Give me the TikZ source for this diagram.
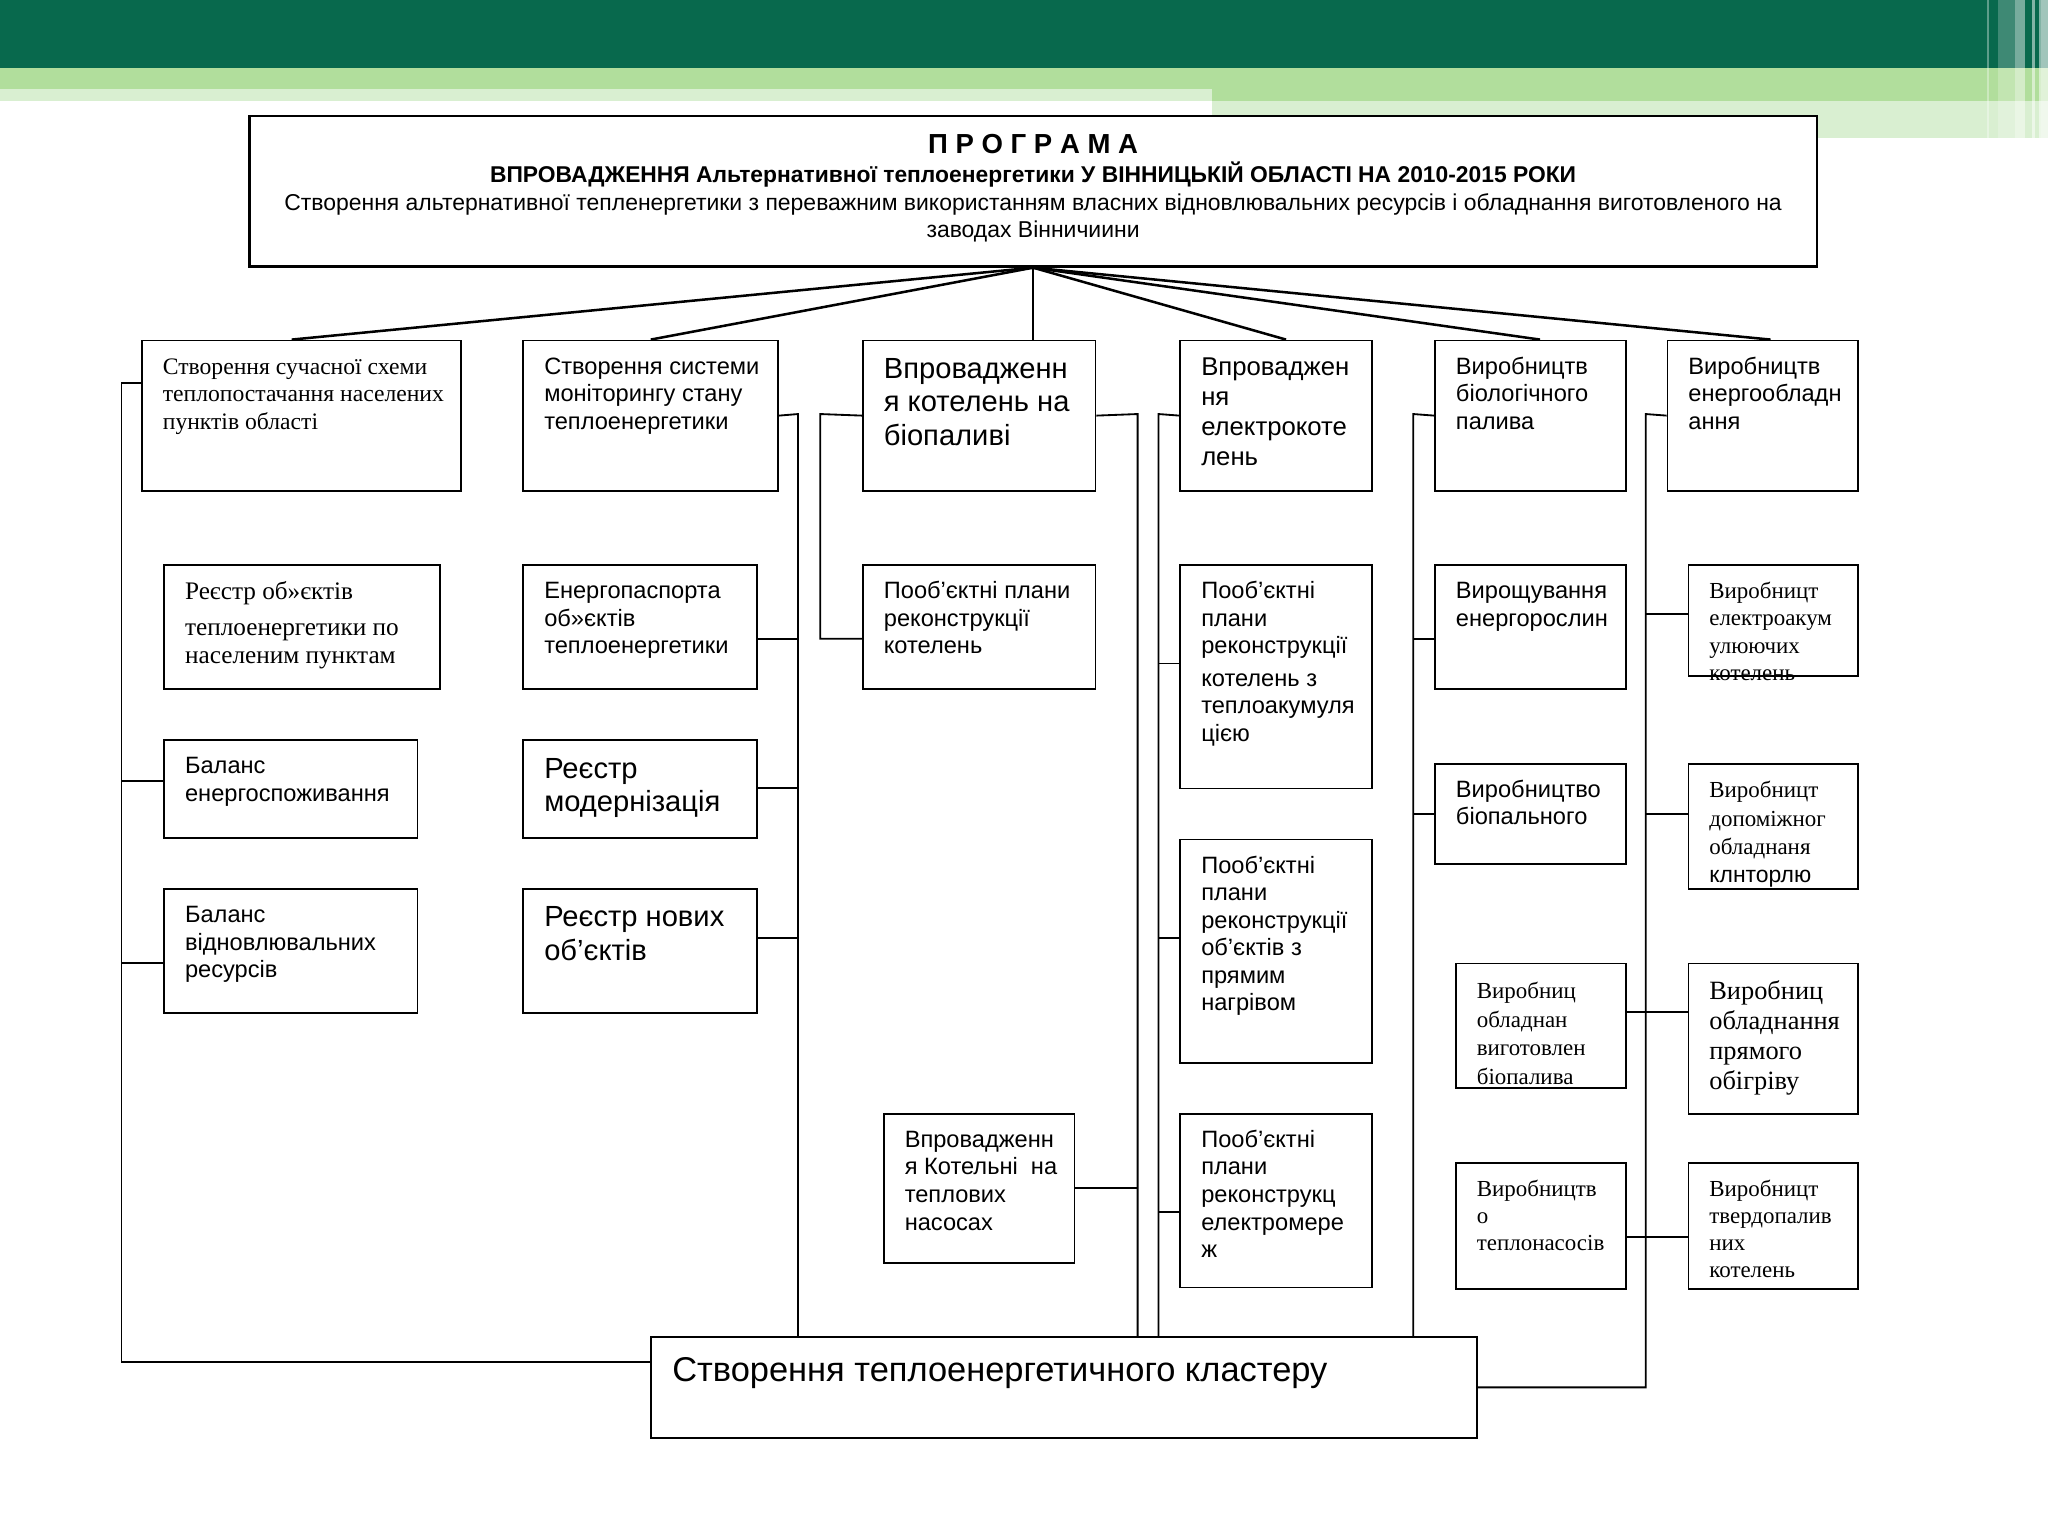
\documentclass[tikz,border=0pt]{standalone}
\usepackage{fontspec}
\setmainfont{Liberation Sans}
\newfontfamily\arialf{Liberation Sans}
\newfontfamily\timesf{Liberation Serif}
\usepackage{tikz}
\usetikzlibrary{positioning, calc}
\newlength\px
\setlength\px{0.02cm}
\definecolor{bandDark}{HTML}{08694D}
\definecolor{bandMid}{HTML}{B1DE9C}
\definecolor{bandLight}{HTML}{D9EFD1}
\newcommand{\cell}[4][11]{\parbox[c][#3\px][t]{#2\px}{\vspace*{#1\px}\hspace*{16\px}\begin{tabular}[t]{@{}l@{}}#4\end{tabular}}}
\newcommand{\txtsans}{\arialf\fontsize{10.3pt}{12pt}\selectfont}
\newcommand{\txtmid}{\arialf\fontsize{11.2pt}{13pt}\selectfont}
\newcommand{\txtbig}{\arialf\fontsize{12.7pt}{14.6pt}\selectfont}
\newcommand{\txtserif}{\timesf\fontsize{10.3pt}{12pt}\selectfont}
\tikzstyle{box} = [draw, line width=0.8pt, inner sep=0pt, anchor=north west, fill=white]
\tikzstyle{wire} = [line width=0.8pt]
\tikzstyle{fan} = [line width=1.1pt]
\begin{document}
\begin{tikzpicture}[x=0.02cm, y=-0.02cm]
\useasboundingbox (0,0) rectangle (1568,1176);
\fill[bandDark] (0,0) rectangle (1568,52);
\fill[bandMid] (0,52) rectangle (1568,68);
\fill[bandMid] (928,68) rectangle (1568,77);
\fill[bandLight] (0,68) rectangle (928,77);
\fill[bandLight] (928,77) rectangle (1568,106);
\foreach \a/\b/\o in {1521/1523/0.35, 1530/1543/0.22, 1543/1550/0.45, 1556/1558/0.5, 1561/1563/0.5, 1563/1568/0.62}
    \fill[white, opacity=\o] (\a,0) rectangle (\b,106);

\node[box, line width=1.1pt, font=\arialf\fontsize{10pt}{12pt}\selectfont] (programme) at (190,88) {\parbox[c][115\px][t]{1200\px}{\vspace*{14\px}\centering
    \begin{tabular}[t]{@{}c@{}}
    {\bfseries\fontsize{12pt}{12pt}\selectfont П Р О Г Р А М А}\\
    {\bfseries\fontsize{9.95pt}{12pt}\selectfont ВПРОВАДЖЕННЯ Альтернативної теплоенергетики У ВІННИЦЬКІЙ ОБЛАСТІ НА 2010-2015 РОКИ}\\
    Створення альтернативної тепленергетики з переважним використанням власних відновлювальних ресурсів і обладнання виготовленого на\\
    заводах Вінничиини
    \end{tabular}}};

\node[box, font=\txtserif] (schema) at (108,260) {\cell{244}{115}{Створення сучасної схеми\\теплопостачання населених\\пунктів області}};
\node[box, font=\txtsans] (monitor) at (400,260) {\cell{195}{115}{Створення системи\\моніторингу стану\\теплоенергетики}};
\node[box, font=\txtbig] (biofuel) at (660,260) {\cell{178}{115}{Впровадженн\\я котелень на\\біопаливі}};
\node[box, font=\txtmid] (electro) at (903,260) {\cell{147}{115}{Впроваджен\\ня\\електрокоте\\лень}};
\node[box, font=\txtsans] (bioprod) at (1098,260) {\cell{146}{115}{Виробництв\\біологічного\\палива}};
\node[box, font=\txtsans] (equip) at (1276,260) {\cell{146}{115}{Виробництв\\енергообладн\\ання}};

\node[box, font=\timesf\fontsize{11pt}{12.2pt}\selectfont] (register) at (125,432) {\cell{211}{95}{Реєстр об»єктів\\[3.7pt]теплоенергетики по\\населеним пунктам}};
\node[box, font=\txtsans] (balance) at (125,566) {\cell{194}{75}{Баланс\\енергоспоживання}};
\node[box, font=\txtsans] (renew) at (125,680) {\cell{194}{95}{Баланс\\відновлювальних\\ресурсів}};

\node[box, font=\txtsans] (passport) at (400,432) {\cell{179}{95}{Енергопаспорта\\об»єктів\\теплоенергетики}};
\node[box, font=\txtbig] (modern) at (400,566) {\cell{179}{75}{Реєстр\\модернізація}};
\node[box, font=\txtbig] (newobj) at (400,680) {\cell{179}{95}{Реєстр нових\\об’єктів}};

\node[box, font=\txtsans] (plans) at (660,432) {\cell{178}{95}{Пооб’єктні плани\\реконструкції\\котелень}};
\node[box, font=\txtsans] (pumps) at (676,852) {\cell{146}{114}{Впровадженн\\я Котельні\ \ на\\теплових\\насосах}};

\node[box, font=\txtsans] (accum) at (903,432) {\cell{147}{171}{Пооб’єктні\\плани\\реконструкції\\[2pt]котелень з\\теплоакумуля\\цією}};
\node[box, font=\txtsans] (direct) at (903,642) {\cell{147}{171}{Пооб’єктні\\плани\\реконструкції\\об’єктів з\\прямим\\нагрівом}};
\node[box, font=\txtsans] (grid) at (903,852) {\cell{147}{133}{Пооб’єктні\\плани\\реконструкц\\електромере\\ж}};

\node[box, font=\txtsans] (crops) at (1098,432) {\cell{146}{95}{Вирощування\\енергорослин}};
\node[box, font=\txtsans] (pellets) at (1098,584) {\cell{146}{77}{Виробництво\\біопального}};
\node[box, font=\timesf\fontsize{10pt}{12.6pt}\selectfont] (bioequip) at (1114,737) {\cell{130}{95}{Виробниц\\обладнан\\виготовлен\\біопалива}};
\node[box, font=\timesf\fontsize{10pt}{11.8pt}\selectfont] (heatpumps) at (1114,890) {\cell{130}{96}{Виробництв\\о\\теплонасосів}};

\node[box, font=\timesf\fontsize{10pt}{11.9pt}\selectfont] (eboilers) at (1292,432) {\cell{130}{85}{Виробницт\\електроакум\\улюючих\\котелень}};
\node[box, font=\timesf\fontsize{10pt}{12.3pt}\selectfont] (control) at (1292,584) {\cell{130}{96}{Виробницт\\допоміжног\\обладнаня\\{\arialf клнторлю}}};
\node[box, font=\timesf\fontsize{11.5pt}{13.2pt}\selectfont] (heating) at (1292,737) {\cell{130}{115}{Виробниц\\обладнання\\прямого\\обігріву}};
\node[box, font=\timesf\fontsize{10pt}{11.8pt}\selectfont] (solid) at (1292,890) {\cell{130}{96}{Виробницт\\твердопалив\\них\\котелень}};

\node[box, font=\arialf\fontsize{15pt}{17pt}\selectfont] (cluster) at (498,1023) {\cell[13]{632}{77}{Створення теплоенергетичного кластеру}};

\draw[fan] (programme.south) -- ($(schema.north west)!.47!(schema.north east)$);
\draw[fan] (programme.south) -- (monitor.north);
\draw[wire] (programme.south) -- (programme.south |- biofuel.north);
\draw[fan] (programme.south) -- ($(electro.north west)!.55!(electro.north east)$);
\draw[fan] (programme.south) -- ($(bioprod.north west)!.55!(bioprod.north east)$);
\draw[fan] (programme.south) -- ($(equip.north west)!.54!(equip.north east)$);

\coordinate (busA) at (93,293);
\coordinate (busB) at (611,317);
\coordinate (busC) at (628,317);
\coordinate (busD) at (871,317);
\coordinate (busE) at (887,317);
\coordinate (busF) at (1082,317);
\coordinate (busG) at (1260,317);

\draw[wire] (schema.west |- busA) -- (busA) -- (busA |- 0,1043) -- (cluster.west |- 0,1043);
\draw[wire] (busA |- 0,598) -- (balance.west |- 0,598);
\draw[wire] (busA |- 0,737) -- (renew.west |- 0,737);

\draw[wire] (monitor.east) -- (busB) -- (busB |- cluster.north);
\draw[wire] (passport.east |- 0,489) -- (busB |- 0,489);
\draw[wire] (modern.east |- 0,603) -- (busB |- 0,603);
\draw[wire] (newobj.east |- 0,718) -- (busB |- 0,718);

\draw[wire] (biofuel.west) -- (busC) -- (busC |- 0,489) -- (plans.west |- 0,489);
\draw[wire] (biofuel.east) -- (busD) -- (busD |- cluster.north);
\draw[wire] (pumps.east) -- (pumps.east -| busD);

\draw[wire] (electro.west) -- (busE) -- (busE |- cluster.north);
\draw[wire] (busE |- 0,508) -- (accum.west |- 0,508);
\draw[wire] (busE |- 0,718) -- (direct.west |- 0,718);
\draw[wire] (busE |- 0,928) -- (grid.west |- 0,928);

\draw[wire] (bioprod.west) -- (busF) -- (busF |- cluster.north);
\draw[wire] (busF |- 0,489) -- (crops.west |- 0,489);
\draw[wire] (busF |- pellets.west) -- (pellets.west);

\draw[wire] (equip.west) -- (busG) -- (busG |- cluster.east) -- (cluster.east);
\draw[wire] (busG |- 0,470) -- (eboilers.west |- 0,470);
\draw[wire] (busG |- 0,623) -- (control.west |- 0,623);
\draw[wire] (bioequip.east |- 0,775) -- (heating.west |- 0,775);
\draw[wire] (heatpumps.east |- 0,947) -- (solid.west |- 0,947);
\end{tikzpicture}
\end{document}
